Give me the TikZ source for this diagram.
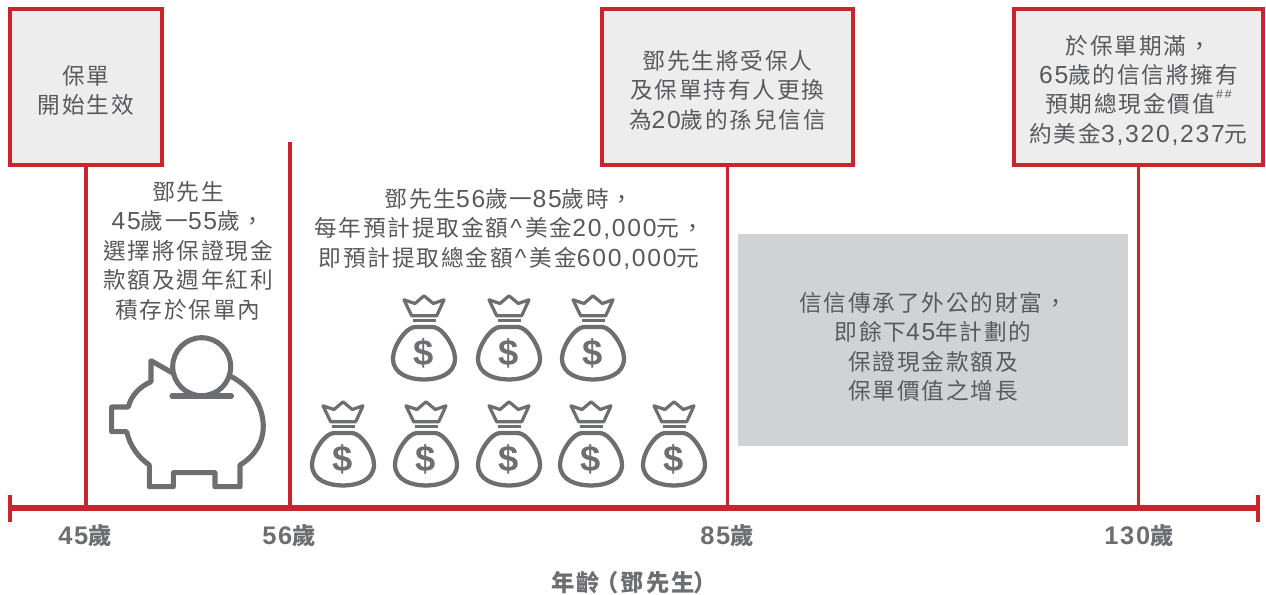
\documentclass[tikz,border=0pt]{standalone}
\usepackage{fontspec}
\usetikzlibrary{positioning}
\setmainfont[LetterSpace=8]{Noto Sans CJK TC}
\newfontfamily\latin[LetterSpace=7,Scale=1.09]{Liberation Sans}
\newcommand{\la}[1]{{\latin #1}}
\newcommand{\caret}{\la{\kern1.5pt\textasciicircum\kern2.5pt}}
\newcommand{\boxgap}{\rule{0pt}{19.2pt}}
\newcommand{\panelgap}{\rule{0pt}{25pt}}
\definecolor{linered}{HTML}{C9252F}
\definecolor{boxgrey}{HTML}{EDEDEE}
\definecolor{panelgrey}{HTML}{D1D2D4}
\definecolor{icongrey}{HTML}{6D6E71}
\definecolor{textgrey}{HTML}{58595B}
\tikzset{
    bodytext/.style={text=textgrey, align=center, inner sep=0pt, font=\fontsize{17}{22.1}\selectfont},
    redbox/.style={bodytext, draw=linered, line width=3.4pt, fill=boxgrey, minimum height=117pt},
    stem/.style={draw=linered, line width=2.6pt},
    axislabel/.style={text=icongrey, inner sep=0pt, font=\fontsize{17.5}{20}\selectfont\bfseries},
    icon/.style={draw=icongrey, line join=round},
    moneybag/.pic={
        \draw[icon, line width=2.4pt] (-20,-20.7) -- (-9,-17) -- (0,-24.7) -- (9.3,-17) -- (20,-20.7) -- (12.7,-4.7) -- (-12.3,-4.7) -- cycle;
        \draw[icon, line width=2.4pt] (-11.5,0) -- (11.5,0);
        \draw[icon, line width=3.2pt] (-9,6.5) -- (9,6.5) .. controls (18,6.5) and (31,26) .. (31,38) .. controls (31,54) and (14,59) .. (0,59) .. controls (-14,59) and (-31,54) .. (-31,38) .. controls (-31,26) and (-18,6.5) .. (-9,6.5) -- cycle;
        \node[text=icongrey, inner sep=0pt, font=\fontsize{25}{25}\latin\bfseries] at (0,32.5) {\$};
    }
}
\begin{document}
\begin{tikzpicture}[x=.75pt, y=-.75pt]
\useasboundingbox (0,0) rectangle (1266,595);

% axis
\coordinate (axisstart) at (10,508);
\coordinate (axisend) at (1260,508);
\coordinate (t45) at (86,508);
\coordinate (t56) at (290,508);
\coordinate (t85) at (727.5,508);
\coordinate (t130) at (1138.5,508);
\coordinate (t56top) at (290,142);
\coordinate (ticktopa) at (10,495);
\coordinate (tickbota) at (10,522);
\coordinate (ticktopb) at (1258,495);
\coordinate (tickbotb) at (1258,522);

% boxes on top
\node[redbox, minimum width=114pt] (start) at (86,87) {\boxgap 保單\\開始生效};
\node[redbox, minimum width=188pt] (handover) at (727.5,87) {\boxgap 鄧先生將受保人\\及保單持有人更換\\為\la{20}歲的孫兒信信};
\node[redbox, minimum width=187pt] (maturity) at (1138.5,87) {\boxgap 於保單期滿，\\\la{65}歲的信信將擁有\\預期總現金價值\raisebox{1.2ex}{\fontsize{8.5}{8.5}\latin \kern1pt\#\kern1.5pt\#}\\約美金\la{3,320,237}元};

\draw[stem] (start) -- (t45);
\draw[stem] (t56top) -- (t56);
\draw[stem] (handover) -- (t85);
\draw[stem] (maturity) -- (t130);

\draw[draw=linered, line width=3.8pt] (axisstart) -- (axisend);
\draw[draw=linered, line width=3.6pt] (ticktopa) -- (tickbota);
\draw[draw=linered, line width=3.6pt] (ticktopb) -- (tickbotb);

% text in the columns
\node[bodytext] (savings) at (188,250.5) {鄧先生\\\la{45}歲一\la{55}歲，\\選擇將保證現金\\款額及週年紅利\\積存於保單內};
\node[bodytext] (payout) at (509,229) {鄧先生\la{56}歲一\la{85}歲時，\\每年預計提取金額\caret 美金\la{20,000}元，\\即預計提取總金額\caret 美金\la{600,000}元};
\node[bodytext, fill=panelgrey, minimum width=292.5pt, minimum height=159pt] (legacy) at (933,340) {\panelgap 信信傳承了外公的財富，\\即餘下\la{45}年計劃的\\保證現金款額及\\保單價值之增長};

% piggy bank
\draw[icon, line width=3.8pt] (173.5,373.5) -- (151,360.7) -- (151,381.7) .. controls (139,387) and (131,396) .. (128.3,407) -- (111.7,407) -- (111.7,431.7) -- (126.7,431.7) .. controls (130,446) and (138,457) .. (149.3,465) -- (149.3,486.7) -- (173.3,486.7) -- (173.3,472.7) -- (215,472.7) -- (215,486.7) -- (240,486.7) -- (240,465) .. controls (255,456) and (263.3,442) .. (263.3,426.7) .. controls (263.3,405) and (250,385) .. (228,375);
\draw[icon, line width=3.8pt] (201.7,366.7) circle (29);
\draw[icon, line width=3.8pt, line cap=round] (172,396) -- (231.5,396);

% money bags
\foreach \bagx in {424,509,593}
    \pic at (\bagx,320.5) {moneybag};
\foreach \bagx in {343,426,509,591,674}
    \pic at (\bagx,426.5) {moneybag};

% ages
\node[axislabel] (age45) at (85,535.5) {\la{45}歲};
\node[axislabel] (age56) at (289,535.5) {\la{56}歲};
\node[axislabel] (age85) at (727,535.5) {\la{85}歲};
\node[axislabel] (age130) at (1139,535.5) {\la{130}歲};
\node[axislabel] (agetitle) at (634,583) {年齡\kern-3pt（鄧先生\kern-1pt）};
\end{tikzpicture}
\end{document}
